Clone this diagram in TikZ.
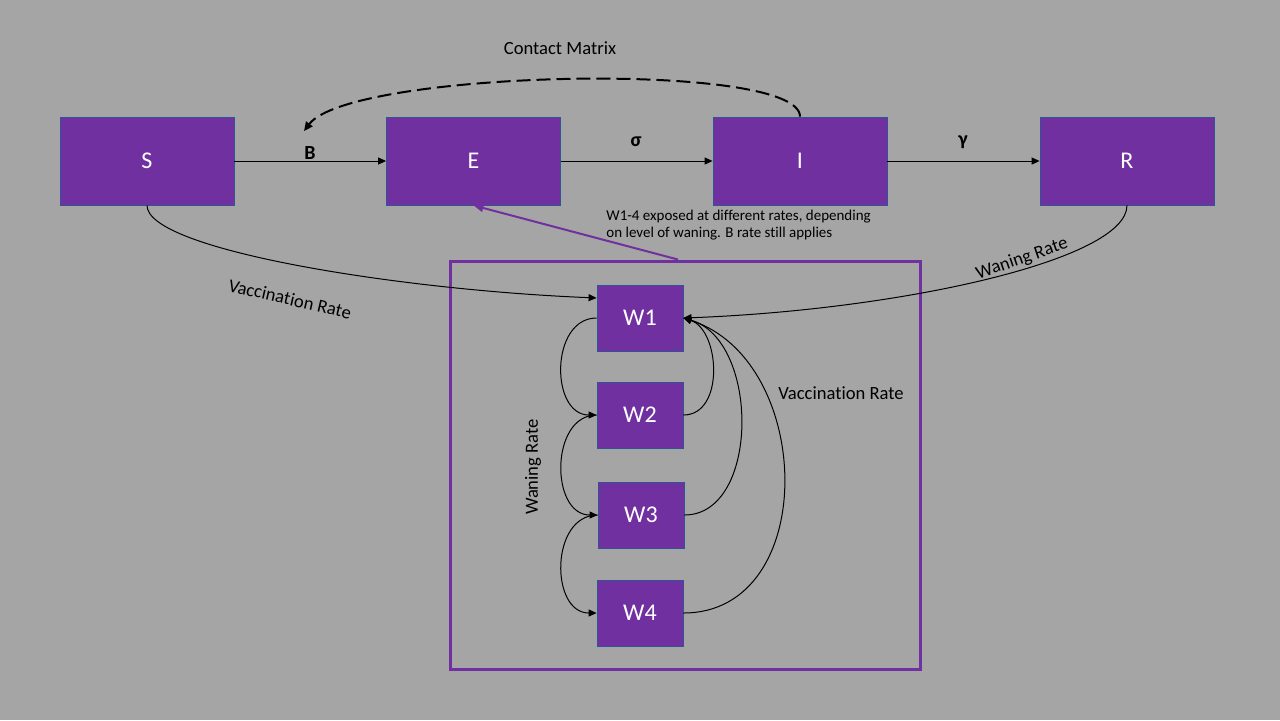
\documentclass[tikz,border=0pt]{standalone}
\usepackage{fontspec}
\setmainfont{Carlito}[Ligatures={NoCommon,NoRare,NoDiscretionary}]
\usetikzlibrary{arrows.meta,calc}
\definecolor{bgc}{HTML}{A5A5A5}
\definecolor{purp}{HTML}{7030A0}
\definecolor{bordc}{HTML}{2F5597}
\begin{document}
\begin{tikzpicture}[x=0.5pt,y=-0.5pt,
  comp/.style={draw=bordc,line width=0.4pt,fill=purp,text=white,minimum width=87pt,minimum height=44pt,inner sep=0pt,font=\fontsize{12}{14}\selectfont},
  wbox/.style={comp,minimum width=43pt,minimum height=33pt},
  flow/.style={draw=black,line width=0.5pt,-{Triangle[length=4pt,width=3.5pt]}},
  lab/.style={font=\fontsize{9.3}{11}\selectfont,text=black,inner sep=0pt},
  greek/.style={font=\bfseries\fontsize{10}{12}\selectfont,inner sep=0pt,text=black}]
\fill[bgc] (0,0) rectangle (1280,720);
\useasboundingbox (0,0) rectangle (1280,720);

% group box
\node[draw=purp,line width=1.5pt,minimum width=235pt,minimum height=204pt,inner sep=0pt] (grp) at (685,465) {};

% compartments
\node[comp] (S) at (147,161) {S};
\node[comp] (E) at (473.5,161) {E};
\node[comp] (I) at (800,161) {I};
\node[comp] (R) at (1127,161) {R};
\node[wbox] (W1) at (640,318) {W1};
\node[wbox] (W2) at (640,415) {W2};
\node[wbox] (W3) at (641,515) {W3};
\node[wbox] (W4) at (640,613) {W4};

% main flows
\draw[flow] (S.east) -- (E.west);
\draw[flow] (E.east) -- (I.west);
\draw[flow] (I.east) -- (R.west);

% contact matrix
\coordinate (cmEnd) at (304,131);
\draw[draw=black,line width=1pt,dash pattern=on 7pt off 3pt,-{Triangle[length=4.5pt,width=4pt]}] (I.north) .. controls (800,60) and (350,70) .. (cmEnd);

% vaccination S -> W1
\coordinate (w1in) at ($(W1.north west)!0.2!(W1.south west)$);
\draw[flow] (S.south) .. controls (147,250) and (400,290) .. (w1in);
% waning R -> W1
\draw[flow] (R.south) .. controls (1127,260) and (900,310) .. (W1.east);

% waning chain
\draw[flow] (W1.west) .. controls (550,318) and (550,415) .. (W2.west);
\draw[flow] (W2.west) .. controls (550,415) and (550,515) .. (W3.west);
\draw[flow] (W3.west) .. controls (550,515) and (550,613) .. (W4.west);

% revaccination back to W1
\draw[flow] (W2.east) .. controls (725,415) and (720,330) .. (W1.east);
\draw[flow] (W3.east) .. controls (760,515) and (760,340) .. (W1.east);
\draw[flow] (W4.east) .. controls (820,613) and (815,360) .. (W1.east);

% exposure of W group
\coordinate (gtop) at ($(grp.north west)!0.485!(grp.north east)$);
\draw[purp,line width=1pt,-{Triangle[length=5pt,width=4pt]}] (gtop) -- (E.south);

% labels
\node[lab] (lcm) at (560,48) {Contact Matrix};
\node[greek] (lb) at (310,153) {B};
\node[greek] (ls) at (636,142) {σ};
\node[greek] (lg) at (963,142) {γ};
\node[lab,anchor=north west,align=left,font=\fontsize{7.5}{8.5}\selectfont] (lnote) at (606,210) {W1-4 exposed at different rates, depending\\on level of waning. B rate still applies};
\node[lab,rotate=-13] (lv1) at (290,299) {Vaccination Rate};
\node[lab,rotate=19] (lw1) at (1022,259) {Waning Rate};
\node[lab] (lv2) at (841,393) {Vaccination Rate};
\node[lab,rotate=90] (lw2) at (533,467) {Waning Rate};
\end{tikzpicture}
\end{document}
